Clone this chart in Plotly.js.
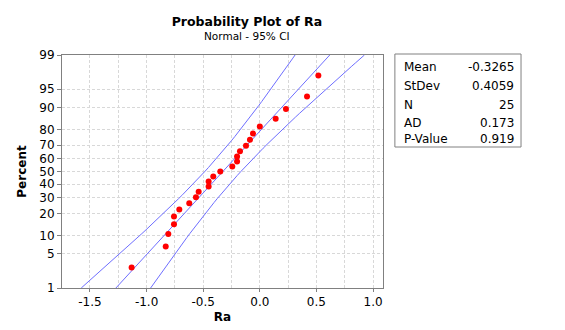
<!DOCTYPE html>
<html>
<head>
<meta charset="utf-8">
<script src="https://cdn.plot.ly/plotly-3.0.1.min.js"></script>
<style>html,body{margin:0;padding:0;background:#fff}</style>
</head>
<body>
<div id="chart" style="width:565px;height:330px"></div>
<script>
var raValues = [-1.132, -0.831, -0.808, -0.758, -0.758, -0.711, -0.623, -0.564, -0.540, -0.452,
                -0.452, -0.411, -0.349, -0.243, -0.201, -0.201, -0.175, -0.122, -0.087, -0.060,
                 0.000,  0.140,  0.231,  0.417,  0.517];
// plotting positions in percent (median ranks)
var rankPercent = [2.756, 6.693, 10.630, 14.567, 18.504, 22.441, 26.378, 30.315, 34.252, 38.189,
                   42.126, 46.063, 50.000, 53.937, 57.874, 61.811, 65.748, 69.685, 73.622, 77.559,
                   81.496, 85.433, 89.370, 93.307, 97.244];
var percentTicks = [1, 5, 10, 20, 30, 40, 50, 60, 70, 80, 90, 95, 99];
var xTicks = [-1.5, -1.0, -0.5, 0.0, 0.5, 1.0];
var xTickText = ['-1.5', '-1.0', '-0.5', '0.0', '0.5', '1.0'];
var statLabels = ['Mean', 'StDev', 'N', 'AD', 'P-Value'];
var statValues = ['-0.3265', '0.4059', '25', '0.173', '0.919'];
var fitMean = -0.3265, fitSd = 0.4059, nObs = 25;

// inverse normal cdf (Acklam) -> probability scale
function qnorm(p) {
  var a = [-3.969683028665376e+01, 2.209460984245205e+02, -2.759285104469687e+02, 1.383577518672690e+02, -3.066479806614716e+01, 2.506628277459239e+00];
  var b = [-5.447609879822406e+01, 1.615858368580409e+02, -1.556989798598866e+02, 6.680131188771972e+01, -1.328068155288572e+01];
  var c = [-7.784894002430293e-03, -3.223964580411365e-01, -2.400758277161838e+00, -2.549732539343734e+00, 4.374664141464968e+00, 2.938163982698783e+00];
  var d = [7.784695709041462e-03, 3.224671290700398e-01, 2.445134137142996e+00, 3.754408661907416e+00];
  var pl = 0.02425, q, r;
  if (p < pl) {
    q = Math.sqrt(-2 * Math.log(p));
    return (((((c[0]*q+c[1])*q+c[2])*q+c[3])*q+c[4])*q+c[5]) / ((((d[0]*q+d[1])*q+d[2])*q+d[3])*q+1);
  }
  if (p > 1 - pl) {
    q = Math.sqrt(-2 * Math.log(1 - p));
    return -(((((c[0]*q+c[1])*q+c[2])*q+c[3])*q+c[4])*q+c[5]) / ((((d[0]*q+d[1])*q+d[2])*q+d[3])*q+1);
  }
  q = p - 0.5; r = q * q;
  return (((((a[0]*r+a[1])*r+a[2])*r+a[3])*r+a[4])*r+a[5])*q / (((((b[0]*r+b[1])*r+b[2])*r+b[3])*r+b[4])*r+1);
}

var zLo = qnorm(0.01), zHi = qnorm(0.99);

// fitted line + 95% CI from mean / stdev
var fitZ = [], fitX = [], loX = [], hiX = [];
for (var i = 0; i <= 60; i++) {
  var z = zLo + (zHi - zLo) * i / 60;
  var half = 1.96 * fitSd * Math.sqrt((1 + z * z / 2) / nObs);
  fitZ.push(z);
  fitX.push(fitMean + fitSd * z);
  loX.push(fitMean + fitSd * z - half);
  hiX.push(fitMean + fitSd * z + half);
}

var lineStyle = {color: 'rgb(110,110,255)', width: 1};
var font = 'DejaVu Sans, Verdana, sans-serif';
var gridDash = '3px,2px';

var data = [
  {type: 'scatter', mode: 'lines', x: loX, y: fitZ, line: lineStyle, hoverinfo: 'skip'},
  {type: 'scatter', mode: 'lines', x: fitX, y: fitZ, line: lineStyle, hoverinfo: 'skip'},
  {type: 'scatter', mode: 'lines', x: hiX, y: fitZ, line: lineStyle, hoverinfo: 'skip'},
  {type: 'scatter', mode: 'markers', x: raValues, y: rankPercent.map(function (p) { return qnorm(p / 100); }),
   marker: {color: '#ff0000', size: 6}}
];

// stats box (paper coords, right of plot)
var annotations = [{
  text: 'Normal - 95% CI', xref: 'paper', yref: 'paper', x: 0.576, y: 1.0815,
  xanchor: 'center', yanchor: 'middle', showarrow: false, font: {family: font, size: 10.5, color: '#000'}
}];
var rowY = [67, 86, 104.5, 122.5, 138.5];
statLabels.forEach(function (lab, k) {
  var yp = (288 - rowY[k]) / 233;
  annotations.push({text: lab, xref: 'paper', yref: 'paper', x: 1.059, y: yp, xanchor: 'left', yanchor: 'middle',
    showarrow: false, font: {family: font, size: 12, color: '#000'}});
  annotations.push({text: statValues[k], xref: 'paper', yref: 'paper', x: 1.414, y: yp, xanchor: 'right', yanchor: 'middle',
    showarrow: false, font: {family: font, size: 12, color: '#000'}});
});

var layout = {
  width: 565, height: 330, autosize: false,
  margin: {l: 62, r: 182, t: 55, b: 42},
  paper_bgcolor: '#fff', plot_bgcolor: '#fff',
  showlegend: false,
  font: {family: font, size: 12, color: '#000'},
  title: {text: '<b>Probability Plot of Ra</b>', xref: 'container', yref: 'container',
          x: 0.437, y: 0.933, xanchor: 'center', yanchor: 'middle', font: {family: font, size: 12.5, color: '#000'}},
  xaxis: {
    range: [-1.747, 1.088], tickvals: xTicks, ticktext: xTickText,
    showline: true, mirror: true, linecolor: '#808080', linewidth: 1,
    ticks: 'outside', ticklen: 3, tickcolor: '#808080',
    showgrid: true, gridcolor: '#d8d8d8', griddash: gridDash, zeroline: false,
    minor: {dtick: 0.25, tick0: 0, showgrid: true, gridcolor: '#d8d8d8', griddash: gridDash, ticks: ''},
    tickfont: {family: font, size: 12, color: '#000'},
    title: {text: '<b>Ra</b>', standoff: 4, font: {family: font, size: 12, color: '#000'}}
  },
  yaxis: {
    range: [zLo, zHi], tickvals: percentTicks.map(function (p) { return qnorm(p / 100); }),
    ticktext: percentTicks.map(String),
    showline: true, mirror: true, linecolor: '#808080', linewidth: 1,
    ticks: 'outside', ticklen: 4, tickcolor: '#808080',
    showgrid: true, gridcolor: '#d8d8d8', griddash: gridDash, zeroline: false,
    tickfont: {family: font, size: 12, color: '#000'},
    title: {text: '<b>Percent</b>', standoff: 10, font: {family: font, size: 12, color: '#000'}}
  },
  shapes: [{type: 'rect', xref: 'paper', yref: 'paper', x0: 1.037, x1: 1.430,
            y0: (288 - 147) / 233, y1: (288 - 54) / 233, line: {color: '#808080', width: 1}}],
  annotations: annotations
};

Plotly.newPlot('chart', data, layout, {displayModeBar: false, staticPlot: true});
</script>
</body>
</html>
